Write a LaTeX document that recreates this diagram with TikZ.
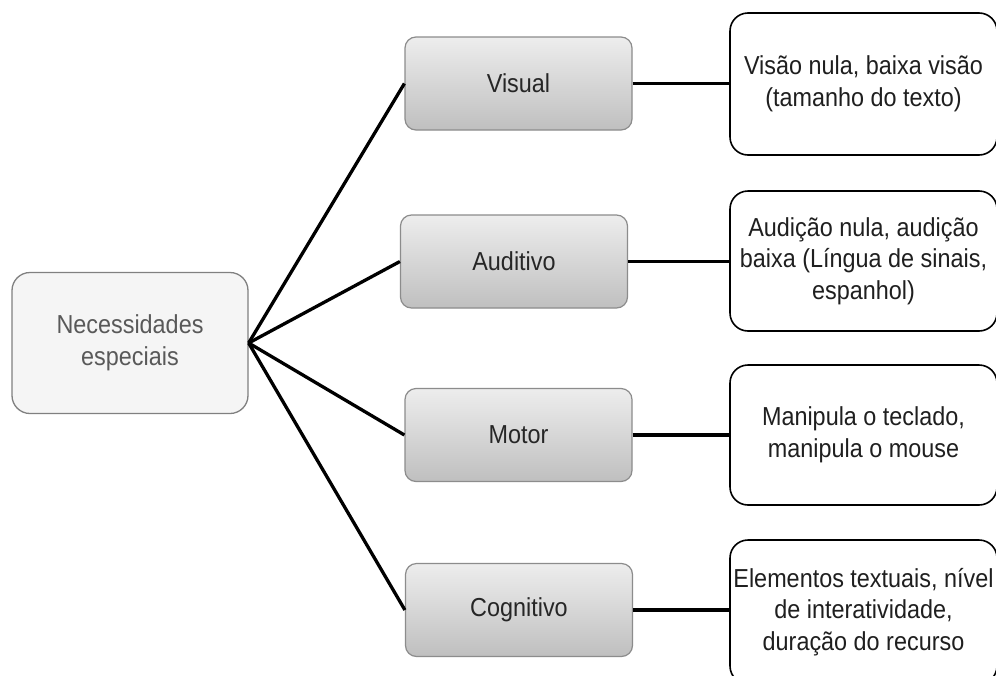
\documentclass[tikz,border=0pt]{standalone}
\usepackage{fontspec}
\setmainfont{Liberation Sans}[FakeStretch=0.9]
\begin{document}
\begin{tikzpicture}[x=1pt,y=-1pt,
  every node/.style={font=\fontsize{26}{31.5}\selectfont, align=center, inner sep=0pt},
  rootbox/.style={draw=black!50, line width=1.3pt, fill=black!4, rounded corners=18pt, text=black!65,
    minimum width=236pt, minimum height=141pt},
  midbox/.style={draw=black!45, line width=1.2pt, top color=black!7, bottom color=black!25, rounded corners=11pt, text=black!85,
    minimum width=227pt, minimum height=93pt},
  leafbox/.style={draw=black, line width=1.6pt, fill=white, rounded corners=18pt, text=black!88,
    minimum width=267pt},
  conn/.style={line width=3.3pt, black}]
\useasboundingbox (0,0) rectangle (996,675);
\fill[white] (0,0) rectangle (996,675);

\node[rootbox] (root) at (130,343) {Necessidades\\especiais};

\node[midbox] (vis) at (518.5,83.5) {Visual};
\node[midbox] (aud) at (514,261.5) {Auditivo};
\node[midbox] (mot) at (518.5,435) {Motor};
\node[midbox] (cog) at (519,610) {Cognitivo};

\node[leafbox, minimum height=142pt] (lvis) at (863.5,84) {Visão nula, baixa visão\\(tamanho do texto)};
\node[leafbox, minimum height=140pt] (laud) at (863.5,261) {Audição nula, audição\\baixa (Língua de sinais,\\espanhol)};
\node[leafbox, minimum height=140pt] (lmot) at (863.5,435) {Manipula o teclado,\\manipula o mouse};
\node[leafbox, minimum height=144pt] (lcog) at (863.5,612) {Elementos textuais, nível\\de interatividade,\\duração do recurso};

\draw[conn] (root.east) -- (vis.west);
\draw[conn] (root.east) -- (aud.west);
\draw[conn] (root.east) -- (mot.west);
\draw[conn] (root.east) -- (cog.west);
\draw[conn] (vis.east) -- (vis.east -| lvis.west);
\draw[conn] (aud.east) -- (aud.east -| laud.west);
\draw[conn] (mot.east) -- (mot.east -| lmot.west);
\draw[conn] (cog.east) -- (cog.east -| lcog.west);
\end{tikzpicture}
\end{document}
